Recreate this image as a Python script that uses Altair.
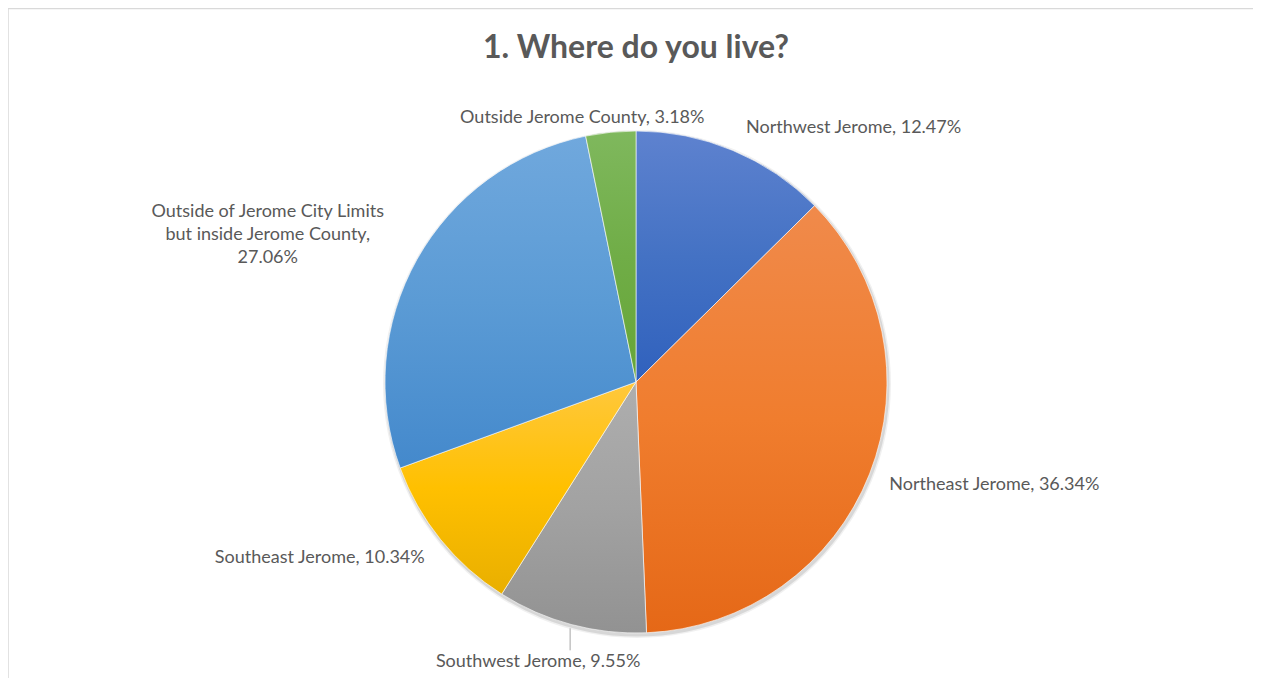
import altair as alt
import pandas as pd

# ---- data ----
categories = [
    "Northwest Jerome",
    "Northeast Jerome",
    "Southwest Jerome",
    "Southeast Jerome",
    "Outside of Jerome City Limits but inside Jerome County",
    "Outside Jerome County",
]
values = [12.47, 36.34, 9.55, 10.34, 27.06, 3.18]
label_texts = [
    "Northwest Jerome, 12.47%",
    "Northeast Jerome, 36.34%",
    "Southwest Jerome, 9.55%",
    "Southeast Jerome, 10.34%",
    "Outside of Jerome City Limits\nbut inside Jerome County,\n27.06%",
    "Outside Jerome County, 3.18%",
]
title_text = "1. Where do you live?"

# ---- layout / style (kept separate from data) ----
label_radius = [280, 270, 255, 270, 360, 265]
label_dx = [2, 2, -32, -1, -54, -27]
label_dy = [4, 4, 34, 7, 6, 0]
label_align = ["left", "left", "center", "right", "center", "center"]
leader = [0, 0, 1, 0, 0, 0]

gradients = [
    ("#5E82CF", "#4472C4", "#3061BD"),
    ("#F08A4B", "#F07D2E", "#E56817"),
    ("#AEAEAE", "#A2A2A2", "#929292"),
    ("#FFC83D", "#FFC000", "#E9AF00"),
    ("#70A8DD", "#5B9BD5", "#4489CC"),
    ("#7FB85D", "#70AD47", "#66A537"),
]

CX, CY, R = 628, 374, 251
W, H = 1245, 670
FONT = "Lato"
TXT = "#595959"
BORDER = "#D9D9D9"

df = pd.DataFrame({
    "category": categories,
    "value": values,
    "label": label_texts,
    "order": list(range(len(categories))),
    "lr": label_radius,
    "ldx": label_dx,
    "ldy": label_dy,
    "align": label_align,
    "leader": leader,
})

base = alt.Chart(df).transform_window(
    cum="sum(value)", sort=[alt.SortField("order")], frame=[None, 0]
).transform_joinaggregate(
    total="sum(value)"
).transform_calculate(
    start="2*PI*(datum.cum - datum.value)/datum.total",
    end="2*PI*datum.cum/datum.total",
).transform_calculate(
    mid="(datum.start + datum.end)/2"
).transform_calculate(
    lx=f"{CX} + datum.lr*sin(datum.mid) + datum.ldx",
    ly=f"{CY} - datum.lr*cos(datum.mid) + datum.ldy",
    rx=f"{CX} + 255*sin(datum.mid)",
    ry=f"{CY} - 255*cos(datum.mid)",
)
base = base.transform_calculate(ry2="datum.ry + 22")

one = alt.Chart(pd.DataFrame({"s": [1]}))
layers = []

# chart border (top and left edges visible)
layers.append(one.mark_rule(color=BORDER, strokeWidth=1.5).encode(
    x=alt.value(0), x2=alt.value(W + 20), y=alt.value(0.5)))
layers.append(one.mark_rule(color=BORDER, strokeWidth=1.5).encode(
    x=alt.value(0), y=alt.value(0), y2=alt.value(H + 20)))

# soft shadow
for rr, op in [(254, 0.06), (252.5, 0.10)]:
    layers.append(
        one.mark_arc(outerRadius=rr, color="#000000", opacity=op).encode(
            x=alt.value(CX + 1), y=alt.value(CY + 2),
            theta=alt.value(0), theta2=alt.value(6.2832),
        )
    )

for cat, (c0, c1, c2) in zip(categories, gradients):
    grad = alt.Gradient(
        gradient="linear",
        stops=[
            alt.GradientStop(color=c0, offset=0),
            alt.GradientStop(color=c1, offset=0.5),
            alt.GradientStop(color=c2, offset=1),
        ],
        x1=0, x2=0, y1=0, y2=1,
    )
    layers.append(
        base.transform_filter(alt.datum.category == cat)
        .mark_arc(outerRadius=R, fill=grad, stroke="#ffffff", strokeWidth=0.6)
        .encode(
            x=alt.value(CX), y=alt.value(CY),
            theta=alt.Theta("start:Q", scale=None),
            theta2=alt.Theta2("end:Q"),
        )
    )

# leader line
layers.append(
    base.transform_filter(alt.datum.leader == 1)
    .mark_rule(color="#A6A6A6", strokeWidth=1)
    .encode(
        x=alt.X("rx:Q", scale=None),
        y=alt.Y("ry:Q", scale=None),
        y2=alt.Y2("ry2:Q"),
    )
)

for al in ["left", "center", "right"]:
    layers.append(
        base.transform_filter(alt.datum.align == al)
        .mark_text(align=al, baseline="middle", font=FONT, fontSize=18,
                   color=TXT, lineBreak="\n", lineHeight=23)
        .encode(
            x=alt.X("lx:Q", scale=None),
            y=alt.Y("ly:Q", scale=None),
            text="label:N",
        )
    )

layers.append(
    alt.Chart(pd.DataFrame({"t": [title_text]}))
    .mark_text(align="center", baseline="middle", font=FONT, fontSize=32,
               fontWeight="bold", color=TXT)
    .encode(x=alt.value(CX), y=alt.value(40), text="t:N")
)

chart = alt.layer(*layers).properties(
    width=W, height=H, autosize="none", padding=0
).configure_view(stroke=None)

chart.save("out.html", embed_options={"renderer": "svg", "actions": False})
